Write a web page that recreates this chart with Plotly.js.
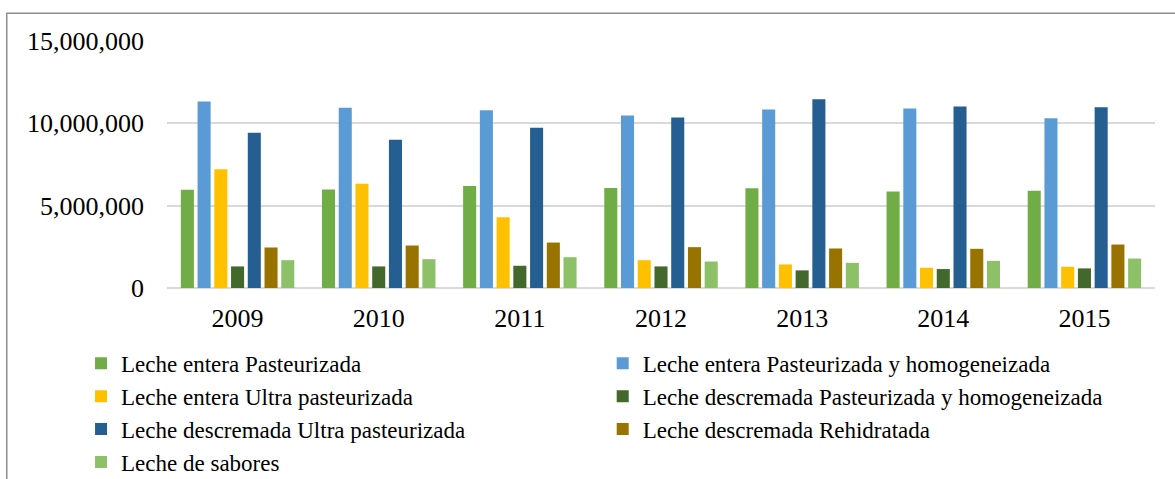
<!DOCTYPE html>
<html>
<head>
<meta charset="utf-8">
<script src="https://cdn.plot.ly/plotly-3.0.1.min.js"></script>
<style>html,body{margin:0;padding:0;background:#fff;}#chart{width:1175px;height:479px;}</style>
</head>
<body>
<div id="chart"></div>
<script>
const years = ['2009', '2010', '2011', '2012', '2013', '2014', '2015'];
const seriesNames = [
  'Leche entera Pasteurizada',
  'Leche entera Pasteurizada y homogeneizada',
  'Leche entera Ultra pasteurizada',
  'Leche descremada Pasteurizada y homogeneizada',
  'Leche descremada Ultra pasteurizada',
  'Leche descremada Rehidratada',
  'Leche de sabores'
];
const entPast      = [5960000, 5980000, 6200000, 6080000, 6060000, 5860000, 5900000];
const entPastHomo  = [11320000, 10940000, 10800000, 10470000, 10840000, 10900000, 10310000];
const entUltra     = [7210000, 6330000, 4290000, 1690000, 1430000, 1230000, 1290000];
const desPastHomo  = [1310000, 1310000, 1350000, 1310000, 1070000, 1150000, 1190000];
const desUltra     = [9430000, 9000000, 9730000, 10350000, 11460000, 11020000, 10980000];
const desRehid     = [2460000, 2580000, 2760000, 2480000, 2400000, 2380000, 2640000];
const sabores      = [1690000, 1750000, 1870000, 1610000, 1530000, 1650000, 1790000];
const seriesValues = [entPast, entPastHomo, entUltra, desPastHomo, desUltra, desRehid, sabores];
const colors = ['#70AD47', '#5B9BD5', '#FFC000', '#43682B', '#255E91', '#997300', '#8CC168'];
const yTickVals = [0, 5000000, 10000000, 15000000];

const FONT = 'Liberation Serif, Times New Roman, serif';

const traces = seriesValues.map((vals, i) => ({
  type: 'bar',
  name: seriesNames[i],
  x: years,
  y: vals,
  marker: {color: colors[i], line: {width: 0}},
  legend: (i % 2 === 0) ? 'legend' : 'legend2',
  legendgroup: 'g' + i,
  hoverinfo: 'x+y+name'
}));

const legendCommon = {
  orientation: 'v',
  traceorder: 'grouped',
  tracegroupgap: 0,
  font: {family: FONT, size: 23, color: '#000'},
  bgcolor: 'rgba(0,0,0,0)',
  borderwidth: 0,
  xanchor: 'left',
  yanchor: 'top',
  y: -0.218
};

const layout = {
  width: 1175,
  height: 479,
  margin: {l: 167, r: 20, t: 40.7, b: 190.5, autoexpand: false},
  paper_bgcolor: '#fff',
  plot_bgcolor: '#fff',
  font: {family: FONT, color: '#000'},
  barmode: 'group',
  bargap: 0.17,
  bargroupgap: 0.22,
  showlegend: true,
  legend: Object.assign({}, legendCommon, {x: -0.087}),
  legend2: Object.assign({}, legendCommon, {x: 0.441}),
  xaxis: {
    type: 'category',
    showgrid: false,
    showline: false,
    zeroline: false,
    ticks: '',
    tickfont: {family: FONT, size: 26, color: '#000'},
    ticklabelstandoff: 12
  },
  yaxis: {
    range: [0, 15000000],
    tickvals: yTickVals,
    tickformat: ',d',
    showgrid: true,
    gridcolor: '#d9d9d9',
    gridwidth: 2,
    zeroline: true,
    zerolinecolor: '#d9d9d9',
    zerolinewidth: 2,
    showline: false,
    ticks: '',
    tickfont: {family: FONT, size: 26, color: '#000'},
    ticklabelstandoff: 22
  },
  shapes: [{
    type: 'rect', xref: 'paper', yref: 'paper',
    x0: -0.1622, x1: 1.1, y0: -0.9, y1: 1.112,
    line: {color: '#8c8c8c', width: 1.5},
    fillcolor: 'rgba(0,0,0,0)',
    layer: 'above'
  }]
};

Plotly.newPlot('chart', traces, layout, {displayModeBar: false, staticPlot: true});
</script>
</body>
</html>
